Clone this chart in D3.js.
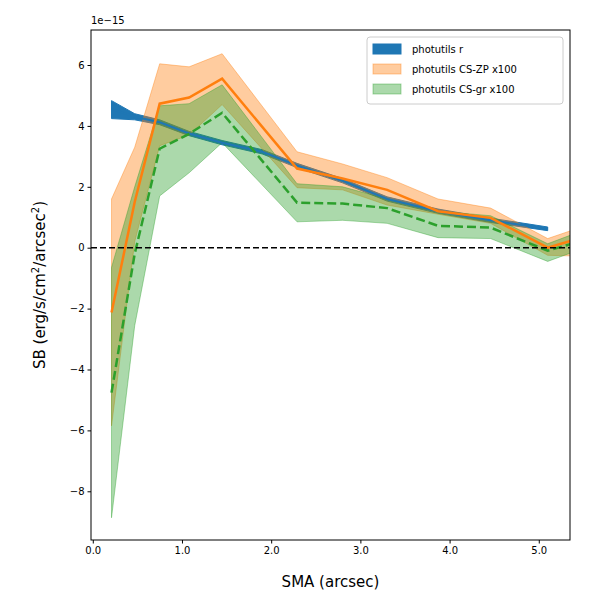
<!DOCTYPE html>
<html><head><meta charset="utf-8">
<script src="https://cdn.jsdelivr.net/npm/d3@7"></script>
<style>body{margin:0;background:#fff}text{font-family:"DejaVu Sans",sans-serif}</style>
</head><body><svg id="c" width="600" height="600"></svg>
<script>
const sma = [0.21,0.47,0.75,1.08,1.45,2.29,2.8,3.3,3.87,4.46,5.1,5.8];
const zpLine = [-2.13,1.5,4.73,4.93,5.55,2.6,2.27,1.9,1.2,0.98,0.0,0.6];
const zpUp   = [1.6,3.3,6.04,5.94,6.37,3.15,2.75,2.3,1.6,1.3,0.3,1.0];
const zpLow  = [-5.85,0.2,3.35,3.7,4.7,1.97,1.9,1.4,1.1,0.8,-0.25,-0.3];
const grLine = [-4.76,-0.2,3.25,3.74,4.43,1.48,1.45,1.3,0.72,0.66,-0.1,0.5];
const grUp   = [-0.65,2.0,4.66,4.73,5.35,2.1,2.0,1.6,1.2,1.05,0.13,0.9];
const grLow  = [-8.87,-2.56,1.7,2.46,3.45,0.85,0.9,0.8,0.33,0.3,-0.45,0.3];
const rSma = [0.21,0.47,0.75,1.08,1.45,1.9,2.29,2.8,3.3,3.87,4.46,5.1];
const rLine= [4.55,4.3,4.12,3.75,3.45,3.15,2.7,2.2,1.6,1.2,0.9,0.62];
const rUp  = [4.83,4.4,4.2,3.82,3.52,3.22,2.77,2.27,1.67,1.27,0.97,0.68];
const rLow = [4.24,4.2,4.04,3.68,3.38,3.08,2.63,2.13,1.53,1.13,0.83,0.56];
const xTicks=[0,1,2,3,4,5], yTicks=[-8,-6,-4,-2,0,2,4,6];

const svg=d3.select("#c");
const L=91,R=570,T=30,B=540;
const x=d3.scaleLinear().domain([-0.02,5.35]).range([L,R]);
const y=d3.scaleLinear().domain([-9.6,7.15]).range([B,T]);
svg.append("defs").append("clipPath").attr("id","cp").append("rect").attr("x",L).attr("y",T).attr("width",R-L).attr("height",B-T);
const g=svg.append("g").attr("clip-path","url(#cp)");
const band=(xs,lo,hi)=>d3.area().x((d,i)=>x(xs[i])).y0((d,i)=>y(lo[i])).y1((d,i)=>y(hi[i]))(xs);
const line=(xs,v)=>d3.line().x((d,i)=>x(xs[i])).y((d,i)=>y(v[i]))(xs);
g.append("path").attr("d",band(rSma,rLow,rUp)).attr("fill","#1f77b4").attr("stroke","#1f77b4").attr("stroke-width",1);
g.append("path").attr("d",band(sma,zpLow,zpUp)).attr("fill","#ff7f0e").attr("fill-opacity",0.4).attr("stroke","#ff7f0e").attr("stroke-opacity",0.4);
g.append("path").attr("d",band(sma,grLow,grUp)).attr("fill","#2ca02c").attr("fill-opacity",0.4).attr("stroke","#2ca02c").attr("stroke-opacity",0.4);
g.append("path").attr("d",line(rSma,rLine)).attr("fill","none").attr("stroke","#1f77b4").attr("stroke-width",2);
g.append("path").attr("d",line(sma,zpLine)).attr("fill","none").attr("stroke","#ff7f0e").attr("stroke-width",2.5);
g.append("path").attr("d",line(sma,grLine)).attr("fill","none").attr("stroke","#2ca02c").attr("stroke-width",2.5).attr("stroke-dasharray","9,4");
g.append("line").attr("x1",L).attr("x2",R).attr("y1",y(0)).attr("y2",y(0)).attr("stroke","#000").attr("stroke-width",1.5).attr("stroke-dasharray","6,3");

const xa=svg.append("g").attr("transform",`translate(0,${B})`).call(d3.axisBottom(x).tickValues(xTicks).tickSize(3.5).tickPadding(3));
const ya=svg.append("g").attr("transform",`translate(${L},0)`).call(d3.axisLeft(y).tickValues(yTicks).tickSize(3.5).tickPadding(3).tickFormat(d=>d<0?"\u2212"+(-d):d));
[xa,ya].forEach(a=>{a.select(".domain").remove();a.selectAll("text").attr("font-size",10).attr("fill","#000");});
svg.append("rect").attr("x",L).attr("y",T).attr("width",R-L).attr("height",B-T).attr("fill","none").attr("stroke","#000").attr("stroke-width",1);
svg.append("text").attr("x",L).attr("y",T-6).attr("font-size",10).text("1e\u221215");
svg.append("text").attr("x",(L+R)/2).attr("y",587).attr("text-anchor","middle").attr("font-size",15).text("SMA (arcsec)");
const yl=svg.append("text").attr("transform",`translate(45,${(T+B)/2}) rotate(-90)`).attr("text-anchor","middle").attr("font-size",15);
yl.append("tspan").text("SB (erg/s/cm");
yl.append("tspan").attr("font-size",10).attr("dy",-6).text("2");
yl.append("tspan").attr("dy",6).text("/arcsec");
yl.append("tspan").attr("font-size",10).attr("dy",-6).text("2");
yl.append("tspan").attr("dy",6).text(")");

const leg=svg.append("g").attr("transform","translate(367,37)");
leg.append("rect").attr("width",196).attr("height",67).attr("rx",3).attr("fill","#fff").attr("fill-opacity",0.8).attr("stroke","#ccc");
const items=[["photutils r","#1f77b4",1],["photutils CS-ZP x100","#ff7f0e",0.4],["photutils CS-gr x100","#2ca02c",0.4]];
items.forEach((it,i)=>{
  leg.append("rect").attr("x",6).attr("y",7+i*20).attr("width",28).attr("height",10).attr("fill",it[1]).attr("fill-opacity",it[2]).attr("stroke",it[1]).attr("stroke-opacity",it[2]);
  leg.append("text").attr("x",45).attr("y",16+i*20).attr("font-size",10).text(it[0]);
});
</script></body></html>
